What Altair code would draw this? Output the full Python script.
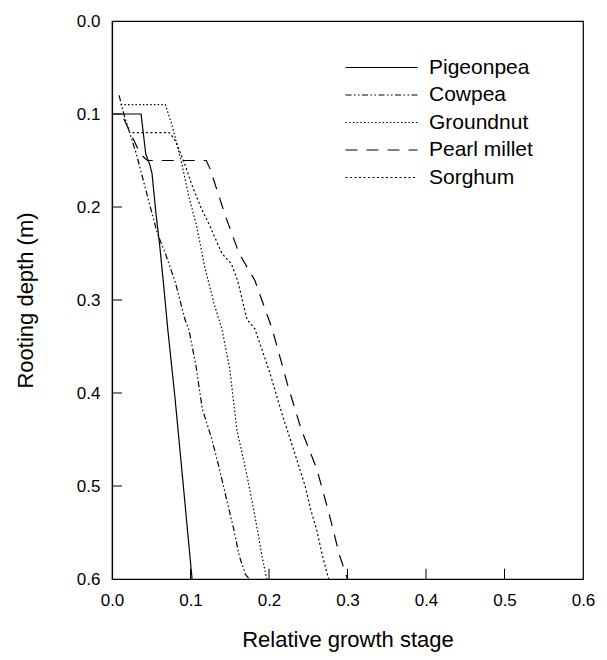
import altair as alt
import pandas as pd

crops = ["Pigeonpea", "Cowpea", "Groundnut", "Pearl millet", "Sorghum"]

pigeonpea_x = [0.0, 0.037, 0.043, 0.048, 0.051, 0.056, 0.061, 0.066, 0.071, 0.080, 0.090, 0.102]
pigeonpea_y = [0.1, 0.1, 0.143, 0.154, 0.164, 0.207, 0.243, 0.286, 0.331, 0.403, 0.492, 0.6]

cowpea_x = [0.009, 0.015, 0.021, 0.031, 0.041, 0.051, 0.058, 0.068, 0.081, 0.093, 0.098,
            0.107, 0.115, 0.127, 0.137, 0.147, 0.155, 0.162, 0.170, 0.175]
cowpea_y = [0.08, 0.1, 0.116, 0.143, 0.175, 0.207, 0.229, 0.25, 0.282, 0.321, 0.332,
            0.371, 0.417, 0.449, 0.482, 0.518, 0.546, 0.575, 0.595, 0.6]

groundnut_x = [0.011, 0.068, 0.076, 0.088, 0.098, 0.108, 0.118, 0.130, 0.140, 0.150,
               0.159, 0.172, 0.182, 0.191, 0.197]
groundnut_y = [0.09, 0.09, 0.111, 0.15, 0.189, 0.221, 0.264, 0.304, 0.331, 0.374,
               0.439, 0.489, 0.532, 0.575, 0.6]

pearl_x = [0.015, 0.036, 0.045, 0.120, 0.125, 0.145, 0.162, 0.182, 0.204, 0.224,
           0.241, 0.261, 0.276, 0.290, 0.300]
pearl_y = [0.105, 0.143, 0.15, 0.15, 0.159, 0.211, 0.25, 0.279, 0.331, 0.392,
           0.439, 0.482, 0.528, 0.575, 0.6]

sorghum_x = [0.026, 0.073, 0.081, 0.091, 0.103, 0.113, 0.125, 0.140, 0.152, 0.160,
             0.172, 0.182, 0.201, 0.216, 0.231, 0.246, 0.253, 0.261, 0.268, 0.276]
sorghum_y = [0.12, 0.12, 0.129, 0.15, 0.179, 0.2, 0.221, 0.25, 0.261, 0.279,
             0.321, 0.331, 0.378, 0.421, 0.46, 0.5, 0.525, 0.548, 0.575, 0.6]

tick_values = [0.0, 0.1, 0.2, 0.3, 0.4, 0.5, 0.6]
inner_ticks = [0.1, 0.2, 0.3, 0.4, 0.5]

series = [
    ("Pigeonpea", pigeonpea_x, pigeonpea_y),
    ("Cowpea", cowpea_x, cowpea_y),
    ("Groundnut", groundnut_x, groundnut_y),
    ("Pearl millet", pearl_x, pearl_y),
    ("Sorghum", sorghum_x, sorghum_y),
]
rows = []
for name, xs, ys in series:
    for i, (x, y) in enumerate(zip(xs, ys)):
        rows.append({"crop": name, "x": x, "y": y, "i": i})
df = pd.DataFrame(rows)

dashes = [[1, 0], [6, 2.5, 1.5, 2.5, 1.5, 2.5], [1.5, 2.2], [12, 9], [2, 2.5]]

FONT = "Liberation Sans"
xsc = alt.Scale(domain=[0, 0.6], nice=False, zero=False)
ysc = alt.Scale(domain=[0, 0.6], reverse=True, nice=False, zero=False)

lines = alt.Chart(df).mark_line(color="black", strokeWidth=1.2).encode(
    x=alt.X("x:Q", scale=xsc,
            axis=alt.Axis(title="Relative growth stage", values=tick_values, format=".1f",
                          ticks=False, grid=False, labelFlush=False, labelPadding=13,
                          titlePadding=21,
                          labelFontSize=17, titleFontSize=22, titleFontWeight="normal",
                          labelColor="black", titleColor="black", domainColor="black",
                          labelFont=FONT, titleFont=FONT)),
    y=alt.Y("y:Q", scale=ysc,
            axis=alt.Axis(title="Rooting depth (m)", values=tick_values, format=".1f",
                          ticks=False, grid=False, labelFlush=False, labelPadding=12,
                          titlePadding=39,
                          labelFontSize=17, titleFontSize=22, titleFontWeight="normal",
                          labelColor="black", titleColor="black", domainColor="black",
                          labelFont=FONT, titleFont=FONT)),
    strokeDash=alt.StrokeDash(
        "crop:N", sort=crops,
        scale=alt.Scale(domain=crops, range=dashes),
        legend=alt.Legend(title=None, orient="none", legendX=259, legendY=36,
                          symbolType="M-7.2,0H7.2", symbolSize=100,
                          symbolStrokeWidth=1.2, symbolStrokeColor="black",
                          labelOffset=37, labelFontSize=21, labelFont=FONT,
                          labelColor="black", rowPadding=5.5)),
    order="i:Q",
)

yt = pd.DataFrame({"t": inner_ticks})
ytick = alt.Chart(yt).mark_rule(color="black", strokeWidth=1).encode(
    y=alt.Y("t:Q", scale=ysc),
    x=alt.datum(0.0, scale=xsc),
    x2=alt.datum(0.0127),
)
xtick = alt.Chart(yt).mark_rule(color="black", strokeWidth=1).encode(
    x=alt.X("t:Q", scale=xsc),
    y=alt.datum(0.6, scale=ysc),
    y2=alt.datum(0.589),
)

chart = alt.layer(lines, ytick, xtick).properties(
    width=471, height=558,
    padding={"left": 104, "top": 13, "right": 16, "bottom": 73},
    autosize="none",
    background="white",
).configure_view(stroke="black", strokeWidth=1.2).configure_axis(domainWidth=1.2)

chart.save("out.html", embed_options={"renderer": "svg", "actions": False})
